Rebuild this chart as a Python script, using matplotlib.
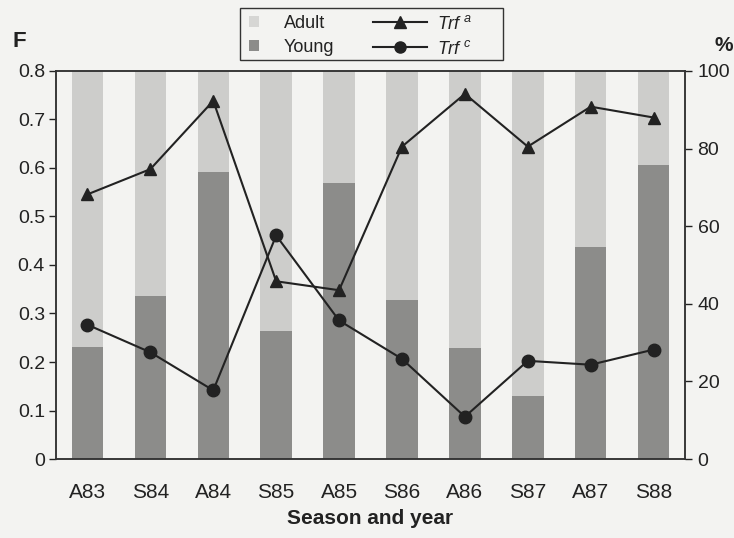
import numpy as np
import matplotlib
matplotlib.use("Agg")
import matplotlib.pyplot as plt
from matplotlib.patches import Patch, Rectangle
from matplotlib.lines import Line2D

# data
seasons = ["A83", "S84", "A84", "S85", "A85", "S86", "A86", "S87", "A87", "S88"]
f_young = [0.231, 0.336, 0.592, 0.263, 0.568, 0.327, 0.229, 0.129, 0.438, 0.606]
f_total = [0.8, 0.8, 0.8, 0.8, 0.8, 0.8, 0.8, 0.8, 0.8, 0.8]
trf_a = [68.2, 74.7, 92.3, 45.8, 43.5, 80.5, 94.1, 80.5, 90.8, 88.0]
trf_c = [34.6, 27.5, 17.7, 57.6, 35.7, 25.8, 10.9, 25.3, 24.3, 28.2]

f_adult = [t - y for t, y in zip(f_total, f_young)]

plt.rcParams['font.family'] = ['Liberation Sans', 'DejaVu Sans']
plt.rcParams['mathtext.fontset'] = 'custom'
plt.rcParams['mathtext.it'] = 'Liberation Sans:italic'
plt.rcParams['mathtext.rm'] = 'Liberation Sans'

bg = '#f3f3f1'
c_adult = '#cdcdcb'
c_young = '#8c8c8a'
ink = '#222222'

fig = plt.figure(figsize=(7.34, 5.38), dpi=100, facecolor=bg)
ax = fig.add_axes([0.0763, 0.1468, 0.8570, 0.7213])
ax.set_facecolor(bg)

x = np.arange(len(seasons))
ax.bar(x, f_young, width=0.5, color=c_young, linewidth=0)
ax.bar(x, f_adult, width=0.5, bottom=f_young, color=c_adult, linewidth=0)

ax.set_xlim(-0.5, len(seasons) - 0.5)
ax.set_ylim(0, 0.8)
ax.set_yticks(np.arange(0, 0.81, 0.1))
ax.set_yticklabels(['0', '0.1', '0.2', '0.3', '0.4', '0.5', '0.6', '0.7', '0.8'])
ax.set_xticks(x)
ax.set_xticklabels(seasons)
ax.tick_params(axis='x', length=0, pad=17, labelsize=15, colors=ink)
ax.tick_params(axis='y', length=5, width=1, pad=3, labelsize=14, colors=ink)
for s in ax.spines.values():
    s.set_color('#333333')
    s.set_linewidth(1.1)

ax2 = ax.twinx()
ax2.plot(x, trf_a, color=ink, lw=1.5, marker='^', ms=9)
ax2.plot(x, trf_c, color=ink, lw=1.5, marker='o', ms=9)
ax2.set_ylim(0, 100)
ax2.set_yticks([0, 20, 40, 60, 80, 100])
ax2.tick_params(axis='y', length=5, width=1, pad=4, labelsize=14, colors=ink)
for s in ax2.spines.values():
    s.set_color('#333333')
    s.set_linewidth(1.1)

ax.set_xlabel("Season and year", fontsize=15, fontweight='bold', color=ink, labelpad=5)
fig.text(0.017, 0.922, "F", fontsize=16, fontweight='bold', color=ink, ha='left', va='center')
fig.text(0.999, 0.916, "%", fontsize=15, fontweight='bold', color=ink, ha='right', va='center')

# legend: two frameless legends inside one drawn box
fig.patches.append(Rectangle((0.327, 0.8885), 0.358, 0.0967, transform=fig.transFigure,
                             facecolor=bg, edgecolor='#333333', linewidth=1.0, zorder=1))
leg_kw = dict(fontsize=13, frameon=False, borderpad=0, borderaxespad=0,
              labelspacing=0.4, loc='upper left')
leg1 = fig.legend([Patch(facecolor='#d6d6d4', edgecolor='none'),
                   Patch(facecolor=c_young, edgecolor='none')],
                  ["Adult", "Young"], bbox_to_anchor=(0.339, 0.973),
                  handlelength=0.55, handleheight=0.55, handletextpad=1.4, **leg_kw)
leg2 = fig.legend([Line2D([], [], color=ink, lw=1.5, marker='^', ms=8),
                   Line2D([], [], color=ink, lw=1.5, marker='o', ms=8)],
                  [r"$\mathit{Trf}^{\ a}$", r"$\mathit{Trf}^{\ c}$"],
                  bbox_to_anchor=(0.508, 0.973),
                  handlelength=3.0, handletextpad=0.55, **leg_kw)
for lg in (leg1, leg2):
    for t in lg.get_texts():
        t.set_color(ink)

fig.savefig("out.png", dpi=100, facecolor=bg)
